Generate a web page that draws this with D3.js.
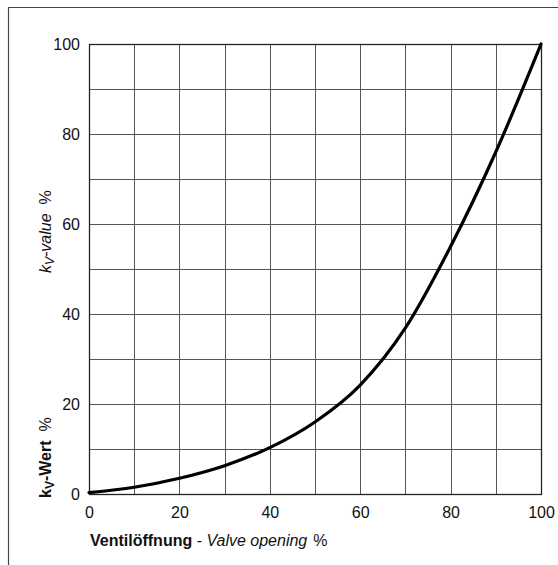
<!DOCTYPE html>
<html lang="en">
<head>
<meta charset="utf-8">
<title>kv-Wert</title>
<script src="https://d3js.org/d3.v7.min.js"></script>
<style>
  body { margin: 0; background: #fff; }
  svg { display: block; font-family: "Liberation Sans", Arial, sans-serif; }
</style>
</head>
<body>
<div class="chart"></div>
<script>
// valve opening % vs kv-value %
var opening = [0, 10, 20, 30, 40, 50, 60, 70, 80, 90, 100];
var kvValue = [0.3, 1.5, 3.5, 6.3, 10.3, 16, 24.2, 36.9, 55, 76, 100];
var xTicks = [0, 20, 40, 60, 80, 100];
var yTicks = [0, 20, 40, 60, 80, 100];
var gridSteps = d3.range(0, 101, 10);

var width = 558, height = 565;
var plotL = 89, plotT = 44, plotR = 541, plotB = 494;
var fs = 16;

var svg = d3.select(".chart").append("svg")
    .attr("width", width)
    .attr("height", height);

// outer frame (left + top)
svg.append("path")
    .attr("d", "M8.5," + height + "V7.5H" + width)
    .attr("fill", "none")
    .attr("stroke", "#444")
    .attr("stroke-width", 1.2);

var x = d3.scaleLinear().domain([0, 100]).range([plotL, plotR]);
var y = d3.scaleLinear().domain([0, 100]).range([plotB, plotT]);

var g = svg.append("g");

// grid
g.selectAll("line.vgrid")
  .data(gridSteps)
  .enter().append("line")
    .attr("class", "vgrid")
    .attr("x1", function(d) { return Math.round(x(d)) + 0.5; })
    .attr("x2", function(d) { return Math.round(x(d)) + 0.5; })
    .attr("y1", plotT)
    .attr("y2", plotB)
    .attr("stroke", "#555")
    .attr("stroke-width", 1);

g.selectAll("line.hgrid")
  .data(gridSteps)
  .enter().append("line")
    .attr("class", "hgrid")
    .attr("y1", function(d) { return Math.round(y(d)) + 0.5; })
    .attr("y2", function(d) { return Math.round(y(d)) + 0.5; })
    .attr("x1", plotL)
    .attr("x2", plotR)
    .attr("stroke", "#555")
    .attr("stroke-width", 1);

// plot border
g.append("rect")
    .attr("x", plotL + 0.5)
    .attr("y", plotT + 0.5)
    .attr("width", plotR - plotL)
    .attr("height", plotB - plotT)
    .attr("fill", "none")
    .attr("stroke", "#222")
    .attr("stroke-width", 1.3);

// axes labels
var xAxis = d3.axisBottom(x).tickValues(xTicks).tickSize(0).tickPadding(13);
svg.append("g")
    .attr("transform", "translate(0," + plotB + ")")
    .call(xAxis)
    .call(function(s) { s.select(".domain").remove(); })
    .selectAll("text")
    .attr("font-size", fs)
    .attr("font-family", "Liberation Sans, Arial, sans-serif")
    .attr("fill", "#111");

var yAxis = d3.axisLeft(y).tickValues(yTicks).tickSize(0).tickPadding(9);
svg.append("g")
    .attr("transform", "translate(" + plotL + ",0)")
    .call(yAxis)
    .call(function(s) { s.select(".domain").remove(); })
    .selectAll("text")
    .attr("font-size", fs)
    .attr("font-family", "Liberation Sans, Arial, sans-serif")
    .attr("fill", "#111");

// curve
var line = d3.line()
    .x(function(d, i) { return x(opening[i]); })
    .y(function(d) { return y(d); })
    .curve(d3.curveMonotoneX);

g.append("path")
    .datum(kvValue)
    .attr("d", line)
    .attr("fill", "none")
    .attr("stroke", "#000")
    .attr("stroke-width", 3.2)
    .attr("stroke-linecap", "round");

// x title
var xt = svg.append("text")
    .attr("x", 90)
    .attr("y", 546)
    .attr("font-size", fs)
    .attr("fill", "#111");
xt.append("tspan").attr("font-weight", "bold").text("Ventilöffnung");
xt.append("tspan").text(" - ");
xt.append("tspan").attr("font-style", "italic").text("Valve opening");
xt.append("tspan").attr("dx", 6).text("%");

// y titles (rotated)
var yt1 = svg.append("text")
    .attr("transform", "translate(51,498) rotate(-90)")
    .attr("font-size", fs)
    .attr("font-weight", "bold")
    .attr("fill", "#111");
yt1.append("tspan").text("k");
yt1.append("tspan").attr("font-size", 12).attr("dy", 3).text("V");
yt1.append("tspan").attr("dy", -3).text("-Wert");
yt1.append("tspan").attr("dx", 9).attr("font-weight", "normal").text("%");

var yt2 = svg.append("text")
    .attr("transform", "translate(51,273) rotate(-90)")
    .attr("font-size", fs)
    .attr("font-style", "italic")
    .attr("fill", "#111");
yt2.append("tspan").text("k");
yt2.append("tspan").attr("font-size", 12).attr("dy", 3).text("V");
yt2.append("tspan").attr("dy", -3).text("-value");
yt2.append("tspan").attr("dx", 9).attr("font-style", "normal").text("%");
</script>
</body>
</html>
